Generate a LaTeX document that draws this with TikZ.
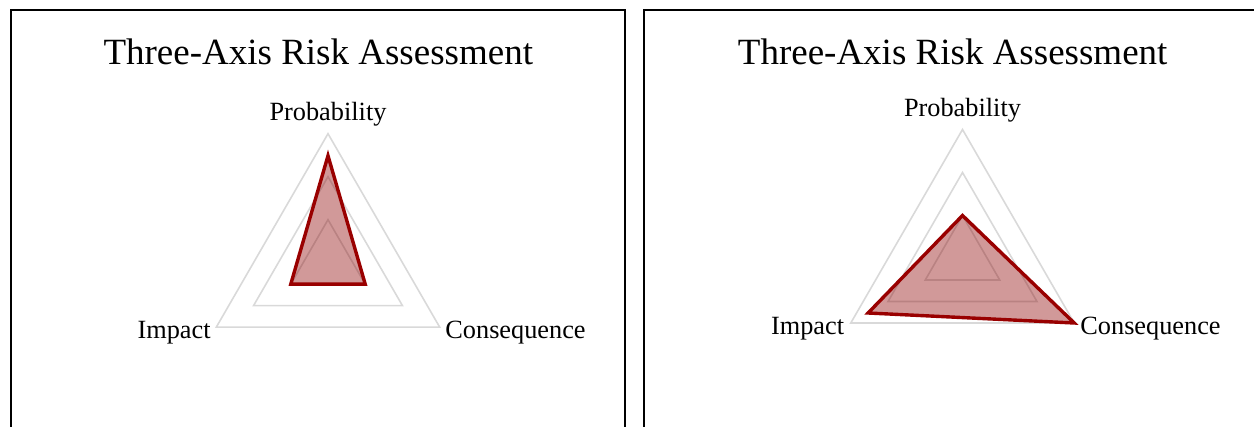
\documentclass[tikz,border=0pt]{standalone}
\usepackage{fontspec}
\setmainfont{Liberation Serif}
\definecolor{gridgray}{HTML}{D9D9D9}
\definecolor{riskred}{HTML}{990000}
\definecolor{riskfill}{HTML}{8B0000}
\tikzset{
  panel/.style={draw=black, line width=1.8pt},
  gridtri/.style={draw=gridgray, line width=1.6pt, line join=miter},
  riskpoly/.style={draw=riskred, fill=riskfill, fill opacity=0.4, line width=3.4pt, line join=miter},
  titletext/.style={font=\fontsize{37}{40}\selectfont, anchor=base, inner sep=0pt},
  axislabel/.style={font=\fontsize{26.3}{28}\selectfont, inner sep=0pt}
}
\begin{document}
\begin{tikzpicture}[x=1pt,y=-1pt]
\useasboundingbox (0,0) rectangle (1254,427);
\clip (0,0) rectangle (1254,427);
% panels
\draw[panel] (11,10.3) rectangle (624.7,440);
\draw[panel] (644.3,10.3) rectangle (1270,440);
% titles
\node[titletext] (t1) at (318.3,65) {Three-Axis Risk Assessment};
\node[titletext] (t2) at (952.7,64.5) {Three-Axis Risk Assessment};
% left chart
\begin{scope}[shift={(328,262.7)}]
  \coordinate (lP) at (-90:129);
  \coordinate (lI) at (150:129);
  \coordinate (lC) at (30:129);
  \foreach \f in {1,2,3} {
    \draw[gridtri] (-90:{43*\f}) -- (150:{43*\f}) -- (30:{43*\f}) -- cycle;
  }
  \draw[riskpoly] (-90:107) -- (150:43) -- (30:43) -- cycle;
  \node[axislabel, anchor=base] (lPl) at ([yshift=13pt]lP) {Probability};
  \node[axislabel, anchor=base east] (lIl) at ([xshift=-5.5pt,yshift=-11pt]lI) {Impact};
  \node[axislabel, anchor=base west] (lCl) at ([xshift=5.5pt,yshift=-11pt]lC) {Consequence};
\end{scope}
% right chart
\begin{scope}[shift={(962.5,258.5)}]
  \coordinate (rP) at (-90:129);
  \coordinate (rI) at (150:129);
  \coordinate (rC) at (30:129);
  \foreach \f in {1,2,3} {
    \draw[gridtri] (-90:{43*\f}) -- (150:{43*\f}) -- (30:{43*\f}) -- cycle;
  }
  \draw[riskpoly] (-90:43) -- (150:109) -- (30:129) -- cycle;
  \node[axislabel, anchor=base] (rPl) at ([yshift=13pt]rP) {Probability};
  \node[axislabel, anchor=base east] (rIl) at ([xshift=-6.5pt,yshift=-11.5pt]rI) {Impact};
  \node[axislabel, anchor=base west] (rCl) at ([xshift=6pt,yshift=-11.5pt]rC) {Consequence};
\end{scope}
\end{tikzpicture}
\end{document}
